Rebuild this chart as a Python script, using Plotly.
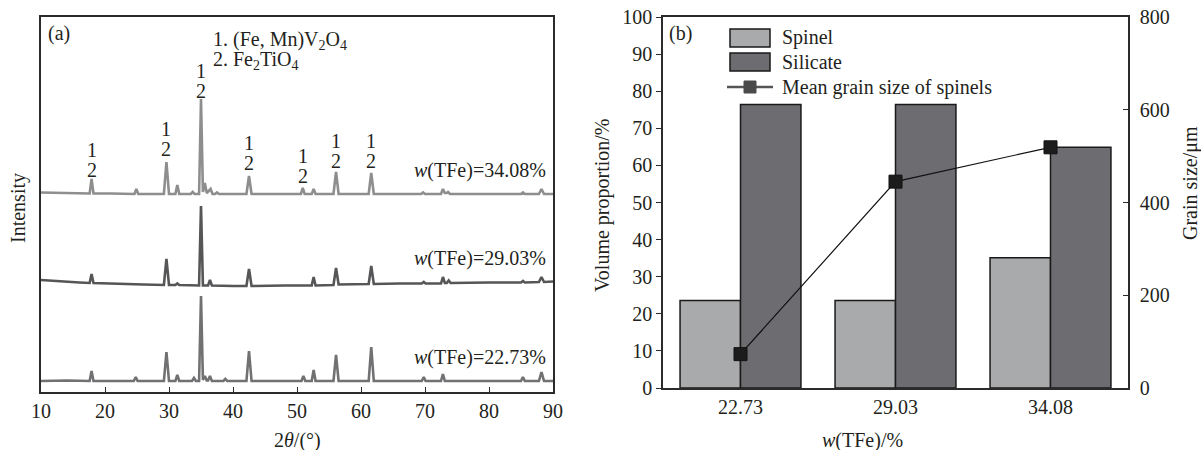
import plotly.graph_objects as go

W, H = 1201, 450
FONT = "Liberation Serif, Times New Roman, serif"
TXT = "#231f20"
AX = "#2b2b2b"

# ---------------- Panel (a): XRD patterns (2θ / intensity incl. vertical offset) ----------------
theta_3408 = [10, 14, 17.6, 17.9, 18.2, 21, 24.6, 24.9, 25.2, 29.2, 29.6, 30.0, 31.0, 31.3, 31.6,
              33.4, 33.7, 34.0, 34.7, 35.0, 35.3, 35.6, 35.9, 36.5, 36.8, 37.2, 37.5, 37.8,
              42.1, 42.5, 42.9, 47, 50.6, 50.9, 51.2, 52.3, 52.6, 52.9, 55.7, 56.1, 56.5,
              61.2, 61.6, 62.0, 66, 69.4, 69.7, 70.0, 72.5, 72.8, 73.1, 73.4, 73.6, 73.9,
              80, 85.0, 85.3, 85.6, 87.8, 88.2, 88.6, 90]
int_3408 = [199.5, 199, 198.5, 213, 198.5, 198.5, 198, 203, 198, 198, 230, 198, 198, 207, 198,
            198, 200, 198, 198, 293, 200, 209, 199, 203, 198, 198, 199.5, 198,
            198, 216, 198, 198, 198, 204, 198, 198, 203, 198, 198, 220, 198,
            198, 219, 198, 198, 198, 199.5, 198, 198, 203, 199, 199, 200, 198,
            198, 198, 199.5, 198, 198, 203, 198, 198]

theta_2903 = [10, 13, 16, 17.6, 17.9, 18.2, 22, 26, 29.2, 29.6, 30.0, 31.0, 31.3, 31.6,
              34.7, 35.0, 35.3, 36.1, 36.4, 36.7, 40, 42.1, 42.5, 42.9, 48, 52.3, 52.6, 52.9,
              55.7, 56.1, 56.5, 61.2, 61.6, 62.0, 66, 69.5, 69.8, 70.1, 72.5, 72.8, 73.1,
              73.4, 73.7, 74.0, 80, 85.0, 85.3, 85.6, 87.8, 88.2, 88.6, 90]
int_2903 = [112, 110.5, 109.5, 109, 118, 109, 108, 107.5, 107, 133, 107, 107, 108.5, 107,
            106.5, 186, 106.5, 106.5, 112, 106.5, 106, 106, 123, 106, 106.5, 106.5, 115, 106.5,
            107, 124, 107.5, 108, 126, 108, 108.5, 108.5, 110, 108.5, 108.5, 115, 109,
            109, 111.5, 109, 109.5, 109.5, 111, 109.5, 110, 115, 110, 110.5]

theta_2273 = [10, 14, 17.6, 17.9, 18.2, 21, 24.5, 24.8, 25.1, 29.2, 29.6, 30.0, 31.0, 31.3, 31.6,
              33.6, 33.9, 34.2, 34.7, 35.0, 35.3, 35.6, 35.9, 36.1, 36.4, 36.7, 38.5, 38.8, 39.1,
              42.1, 42.5, 42.9, 47, 50.7, 51.0, 51.3, 52.3, 52.6, 52.9, 55.7, 56.1, 56.5,
              61.2, 61.6, 62.0, 66, 69.5, 69.8, 70.1, 72.5, 72.8, 73.1, 80, 85.0, 85.3, 85.6,
              87.8, 88.2, 88.6, 90]
int_2273 = [11, 11.5, 11, 21, 11, 11, 11, 15, 11, 11, 40, 11, 11, 17, 11,
            11, 14, 11, 11, 96, 12, 16, 11.5, 11.5, 16, 11, 11, 13, 11,
            11, 41, 11, 11, 11, 16, 11, 11, 22, 11, 11, 37, 11,
            11, 45, 11, 11, 11, 15, 11, 11, 18, 11, 11, 11, 15, 11,
            11, 20, 11, 11]

pattern_labels = ["<i>w</i>(TFe)=34.08%", "<i>w</i>(TFe)=29.03%", "<i>w</i>(TFe)=22.73%"]
pattern_label_y = [222, 134, 35]
pattern_colors = ["#8e8e8f", "#565658", "#717173"]

# peak index labels ("1" over "2") on the top pattern
peak_label_theta = [17.9, 29.6, 35.0, 42.5, 50.9, 56.1, 61.6]
peak_label_y2 = [222, 243, 301, 229, 216, 231, 231]   # centre of the "2"

# ---------------- Panel (b) ----------------
categories = ["22.73", "29.03", "34.08"]
spinel = [23.6, 23.6, 35.1]
silicate = [76.4, 76.4, 64.9]
grain_size = [73, 445, 519]

fig = go.Figure()

for th, it, col in zip([theta_3408, theta_2903, theta_2273],
                       [int_3408, int_2903, int_2273], pattern_colors):
    fig.add_trace(go.Scatter(x=th, y=it, mode="lines", line=dict(color=col, width=2.6),
                             xaxis="x", yaxis="y", showlegend=False, hoverinfo="skip"))

fig.add_trace(go.Bar(x=categories, y=spinel, name="Spinel", xaxis="x2", yaxis="y2",
                     marker=dict(color="#a9aaac", line=dict(color="#1a1a1a", width=1.5)),
                     showlegend=False))
fig.add_trace(go.Bar(x=categories, y=silicate, name="Silicate", xaxis="x2", yaxis="y2",
                     marker=dict(color="#6d6c70", line=dict(color="#1a1a1a", width=1.5)),
                     showlegend=False))
fig.add_trace(go.Scatter(x=categories, y=grain_size, name="Mean grain size of spinels",
                         xaxis="x2", yaxis="y3", mode="lines+markers",
                         line=dict(color="#111111", width=1.2),
                         marker=dict(symbol="square", size=13, color="#1c1c1c",
                                     line=dict(color="#111111", width=1)),
                         showlegend=False))

def px(x):
    return x / W

def py(y):
    return 1 - y / H

ann = []
tf = dict(family=FONT, size=20, color=TXT)

for lab, yv in zip(pattern_labels, pattern_label_y):
    ann.append(dict(x=89.2, y=yv, xref="x", yref="y", text=lab, showarrow=False,
                    xanchor="right", yanchor="middle", font=tf))
for th, yv in zip(peak_label_theta, peak_label_y2):
    ann.append(dict(x=th, y=yv, xref="x", yref="y", text="2", showarrow=False,
                    xanchor="center", yanchor="middle", font=tf))
    ann.append(dict(x=th, y=yv + 20, xref="x", yref="y", text="1", showarrow=False,
                    xanchor="center", yanchor="middle", font=tf))

ann += [
    dict(x=px(46), y=py(33), xref="paper", yref="paper", text="(a)", showarrow=False,
         xanchor="left", yanchor="middle", font=tf),
    dict(x=px(211), y=py(40), xref="paper", yref="paper",
         text="1. (Fe, Mn)V<sub>2</sub>O<sub>4</sub>", showarrow=False,
         xanchor="left", yanchor="middle", font=tf),
    dict(x=px(211), y=py(61), xref="paper", yref="paper",
         text="2. Fe<sub>2</sub>TiO<sub>4</sub>", showarrow=False,
         xanchor="left", yanchor="middle", font=tf),
    dict(x=px(18), y=py(208), xref="paper", yref="paper", text="Intensity", textangle=-90,
         showarrow=False, xanchor="center", yanchor="middle", font=tf),
    dict(x=px(297), y=py(440), xref="paper", yref="paper", text="2<i>θ</i>/(°)",
         showarrow=False, xanchor="center", yanchor="middle", font=tf),
    dict(x=px(667), y=py(33), xref="paper", yref="paper", text="(b)", showarrow=False,
         xanchor="left", yanchor="middle", font=tf),
    dict(x=px(603), y=py(205), xref="paper", yref="paper", text="Volume proportion/%",
         textangle=-90, showarrow=False, xanchor="center", yanchor="middle", font=tf),
    dict(x=px(1190), y=py(183), xref="paper", yref="paper", text="Grain size/μm",
         textangle=-90, showarrow=False, xanchor="center", yanchor="middle", font=tf),
    dict(x=px(862), y=py(440), xref="paper", yref="paper", text="<i>w</i>(TFe)/%",
         showarrow=False, xanchor="center", yanchor="middle", font=tf),
    dict(x=px(780), y=py(38), xref="paper", yref="paper", text="Spinel",
         showarrow=False, xanchor="left", yanchor="middle", font=tf),
    dict(x=px(780), y=py(62), xref="paper", yref="paper", text="Silicate",
         showarrow=False, xanchor="left", yanchor="middle", font=tf),
    dict(x=px(780), y=py(87), xref="paper", yref="paper", text="Mean grain size of spinels",
         showarrow=False, xanchor="left", yanchor="middle", font=tf),
]

shapes = [
    dict(type="rect", xref="paper", yref="paper", x0=px(730), x1=px(770), y0=py(29), y1=py(47),
         fillcolor="#a9aaac", line=dict(color="#1a1a1a", width=1.5)),
    dict(type="rect", xref="paper", yref="paper", x0=px(730), x1=px(770), y0=py(53), y1=py(71),
         fillcolor="#6d6c70", line=dict(color="#1a1a1a", width=1.5)),
    dict(type="line", xref="paper", yref="paper", x0=px(727), x1=px(773), y0=py(87), y1=py(87),
         line=dict(color="#555555", width=2.5)),
    dict(type="rect", xref="paper", yref="paper", x0=px(744), x1=px(756), y0=py(81), y1=py(93),
         fillcolor="#4a4a4a", line=dict(color="#4a4a4a", width=1)),
]

axis_common = dict(showline=True, linecolor=AX, linewidth=1.5, showgrid=False, zeroline=False,
                   automargin=False,
                   tickfont=dict(family=FONT, size=20, color=TXT), tickcolor=AX, tickwidth=1.2)

fig.update_layout(
    template="none",
    width=W, height=H, margin=dict(l=0, r=0, t=0, b=0, pad=0, autoexpand=False),
    paper_bgcolor="white", plot_bgcolor="white",
    barmode="group", bargap=0.22, bargroupgap=0,
    showlegend=False,
    xaxis=dict(domain=[px(41), px(553)], range=[10, 90], tickmode="array",
               tickvals=[10, 20, 30, 40, 50, 60, 70, 80, 90], ticks="inside", ticklen=5,
               mirror=True, anchor="y", **axis_common),
    yaxis=dict(domain=[py(392), py(17)], range=[0, 375], showticklabels=False, ticks="",
               mirror=True, anchor="x", **axis_common),
    xaxis2=dict(domain=[px(663), px(1128)], range=[-0.5, 2.5], type="category", ticks="",
                mirror=True, anchor="y2", **axis_common),
    yaxis2=dict(domain=[py(388), py(17)], range=[0, 100], dtick=10, ticks="outside", ticklen=5,
                anchor="x2", mirror=False, **axis_common),
    yaxis3=dict(range=[0, 800], dtick=200, ticks="inside", ticklen=5, side="right",
                overlaying="y2", anchor="x2", ticklabelstandoff=6, **axis_common),
    annotations=ann, shapes=shapes,
)

fig.write_html("out.html")
